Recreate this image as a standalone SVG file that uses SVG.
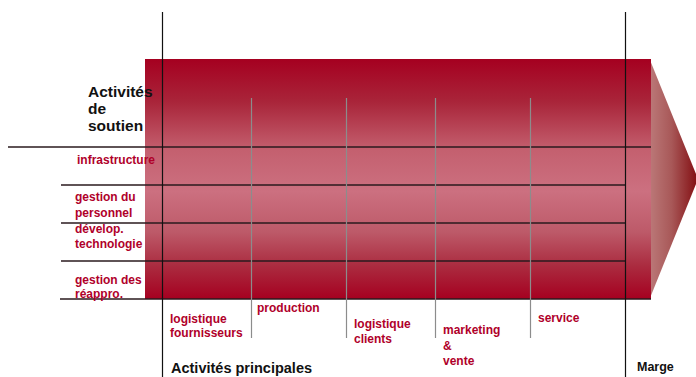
<svg xmlns="http://www.w3.org/2000/svg" width="696" height="377" viewBox="0 0 696 377">
<defs>
<linearGradient id="gBody" x1="0" y1="0" x2="0" y2="1">
<stop offset="0" stop-color="#a50020"/>
<stop offset="0.18" stop-color="#a9253a"/>
<stop offset="0.38" stop-color="#c4606f"/>
<stop offset="0.55" stop-color="#cc7080"/>
<stop offset="0.72" stop-color="#bd5a69"/>
<stop offset="0.86" stop-color="#ab2c40"/>
<stop offset="1" stop-color="#a50020"/>
</linearGradient>
<linearGradient id="gArrow" x1="0" y1="0" x2="1" y2="0">
<stop offset="0" stop-color="#bb7878"/>
<stop offset="0.45" stop-color="#a85858"/>
<stop offset="1" stop-color="#820c10"/>
</linearGradient>
<style>
.hl{stroke:#2a1a1e;stroke-width:1.3;fill:none}
.vb{stroke:#111;stroke-width:1.2;fill:none}
.vg{stroke:#8c8c8c;stroke-width:1.2;fill:none}
.red{font-family:"Liberation Sans",Arial,sans-serif;font-weight:bold;font-size:12px;fill:#b0002a}
.blk{font-family:"Liberation Sans",Arial,sans-serif;font-weight:bold;fill:#111}
</style>
</defs>
<g id="body">
<polygon points="650,60 698,179 650,298" fill="url(#gArrow)"/>
<rect x="145" y="59" width="506" height="240" fill="url(#gBody)"/>
</g>
<g id="connectors">
<line class="hl" x1="8" y1="147" x2="651" y2="147"/>
<line class="hl" x1="61" y1="185" x2="625" y2="185"/>
<line class="hl" x1="61" y1="223" x2="625" y2="223"/>
<line class="hl" x1="61" y1="261" x2="625" y2="261"/>
<line class="hl" x1="60" y1="299" x2="651" y2="299"/>
<line class="vg" x1="251.5" y1="98" x2="251.5" y2="338"/>
<line class="vg" x1="346.5" y1="98" x2="346.5" y2="338"/>
<line class="vg" x1="435.5" y1="98" x2="435.5" y2="338"/>
<line class="vg" x1="530.5" y1="98" x2="530.5" y2="338"/>
<line class="vb" x1="162.5" y1="12" x2="162.5" y2="377"/>
<line class="vb" x1="625.5" y1="12" x2="625.5" y2="377"/>
</g>
<g id="soutien">
<text class="blk" font-size="15.5" x="88" y="97">Activités</text>
<text class="blk" font-size="15.5" x="88" y="114">de</text>
<text class="blk" font-size="15.5" x="88" y="131">soutien</text>
</g>
<g id="infrastructure"><text class="red" x="77" y="164">infrastructure</text></g>
<g id="personnel"><text class="red" x="75" y="201">gestion du</text><text class="red" x="75" y="217">personnel</text></g>
<g id="technologie"><text class="red" x="75" y="233">dévelop.</text><text class="red" x="75" y="248">technologie</text></g>
<g id="reappro"><text class="red" x="75" y="284">gestion des</text><text class="red" x="75" y="298">réappro.</text></g>
<g id="logfour"><text class="red" x="170" y="323">logistique</text><text class="red" x="170" y="337">fournisseurs</text></g>
<g id="production"><text class="red" x="257" y="312">production</text></g>
<g id="logcli"><text class="red" x="354" y="328">logistique</text><text class="red" x="354" y="343">clients</text></g>
<g id="marketing"><text class="red" x="443" y="334">marketing</text><text class="red" x="443" y="350">&amp;</text><text class="red" x="443" y="365">vente</text></g>
<g id="service"><text class="red" x="538" y="322">service</text></g>
<g id="principales"><text class="blk" font-size="14.5" x="171" y="373">Activités principales</text></g>
<g id="marge"><text class="blk" font-size="12.5" x="637" y="371">Marge</text></g>
</svg>
